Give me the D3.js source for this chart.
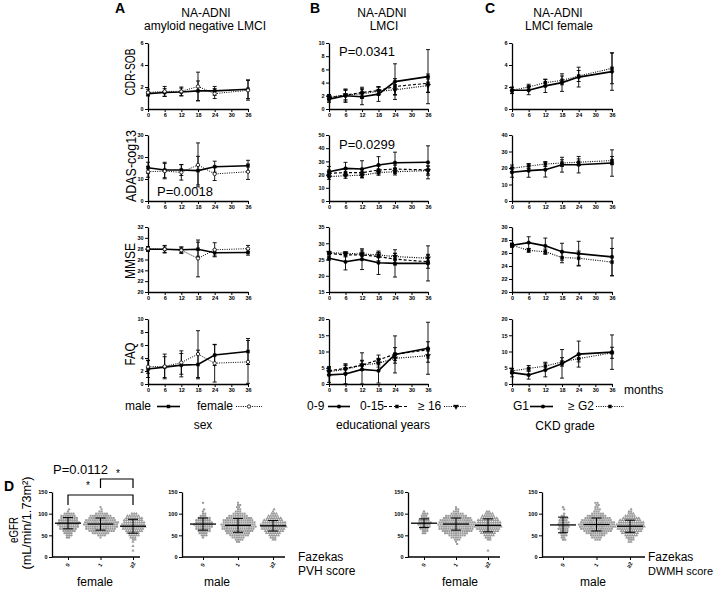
<!DOCTYPE html>
<html><head><meta charset="utf-8">
<script src="https://cdn.jsdelivr.net/npm/d3@7"></script>
<style>
body{margin:0;background:#fff}
svg{display:block}
text{font-family:Arial,"Liberation Sans",Helvetica,sans-serif;fill:#000}
</style>
</head><body>
<svg id="c" width="719" height="589"></svg>
<script>
// ---------------- DATA ----------------
const months = [0, 6, 12, 18, 24, 36];
const monthTicks = [0, 6, 12, 18, 24, 30, 36];

// Panel A : sex (male, female)
const sexGroups = ["male", "female"];
const A_cdr    = [[1.4,1.5,1.55,1.65,1.65,1.8],[1.5,1.6,1.6,2.05,1.4,1.7]];
const A_cdrSD  = [[0.2,0.35,0.35,0.9,0.4,0.85],[0.3,0.45,0.4,1.3,0.45,0.9]];
const A_adas   = [[15.1,14.1,14.1,13.8,15.6,16.0],[13.3,13.6,13.0,16.4,12.3,13.3]];
const A_adasSD = [[2.5,3.5,2.5,6.5,2.5,2.5],[2.5,3.5,3.5,10,3,3.5]];
const A_mmse   = [[27.9,27.9,27.8,27.9,27.25,27.3],[28.0,27.9,27.7,26.2,27.8,28.0]];
const A_mmseSD = [[0.4,0.6,0.5,1.3,0.6,0.5],[0.4,0.7,0.6,3.4,1.3,0.6]];
const A_faq    = [[2.3,2.6,2.9,3.0,4.45,5.0],[2.65,2.7,3.3,4.6,3.2,3.4]];
const A_faqSD  = [[1.3,1.6,1.8,2.2,1.6,2.0],[1.0,1.9,1.8,3.6,2.9,3.3]];

// Panel B : educational years
const eduGroups = ["0-9", "0-15", "\u2265 16"];
const B_cdr    = [[1.5,2.0,1.85,2.25,4.15,4.9],[1.7,2.1,2.5,2.8,3.4,3.9],[1.8,2.1,2.3,2.7,2.9,3.55]];
const B_cdrSD  = [[0.5,1.0,1.2,1.1,2.7,4.1],[0.5,0.9,0.8,0.6,1.2,1.4],[0.4,0.7,0.7,0.6,0.8,1.0]];
const B_adas   = [[22.2,24.7,24.2,27.3,29.0,29.3],[21.0,21.5,21.5,23.5,24.2,23.5],[18.4,19.2,19.5,21.5,22.2,23.0]];
const B_adasSD = [[4,4.6,6.3,6.3,8,12.5],[2.5,2.5,2.5,3,3,3],[2,2,2,2,2.5,3.5]];
const B_mmse   = [[25.4,24.3,25.1,24.0,23.8,23.8],[26.9,26.4,26.4,25.9,25.1,24.3],[27.1,26.9,26.7,26.4,25.9,25.4]];
const B_mmseSD = [[0.6,2.5,3.2,3.6,4.2,5.4],[0.5,0.6,1.5,1.3,1.8,2.0],[0.4,0.5,0.6,0.8,1.0,1.2]];
const B_faq    = [[2.8,3.1,4.5,4.1,9.1,11.0],[4.1,4.8,5.8,7.4,9.2,10.5],[3.8,4.5,5.8,6.4,7.9,8.7]];
const B_faqSD  = [[2.3,3.0,5.1,3.8,5.7,8.0],[1.3,1.4,1.5,1.5,2.0,2.5],[1.0,1.2,1.3,1.2,1.5,2.0]];

// Panel C : CKD grade
const ckdGroups = ["G1", "\u2265 G2"];
const C_cdr    = [[1.7,1.7,2.1,2.4,2.9,3.4],[1.7,2.0,2.4,2.6,3.0,3.7]];
const C_cdrSD  = [[0.3,0.4,0.6,0.8,0.9,1.7],[0.25,0.25,0.3,0.4,0.5,1.4]];
const C_adas   = [[17.4,18.4,19.0,22.0,22.0,23.0],[19.8,21.2,22.4,23.0,23.5,24.5]];
const C_adasSD = [[3,4,4.5,4.5,5,8],[2,1.5,1.5,2,2,2.5]];
const C_mmse   = [[27.2,27.6,27.1,26.2,25.9,25.4],[27.2,26.4,26.2,25.3,25.2,24.6]];
const C_mmseSD = [[0.3,0.9,1.2,1.3,1.9,2.9],[0.3,0.3,0.4,0.8,1.1,2.1]];
const C_faq    = [[3.5,2.8,4.3,6.2,9.2,9.8],[4.0,4.8,5.5,6.8,7.8,9.6]];
const C_faqSD  = [[1.3,1.3,2.1,4.4,4.0,5.3],[0.8,0.9,1.2,1.3,1.0,1.7]];

// Panel D : eGFR by Fazekas score (counts of subjects per eGFR level)
const fazekasCats = ["0", "1", "\u22652"];
const eGFRbins = [15,20,25,30,35,40,45,50,55,60,65,70,75,80,85,90,95,100,105,110,115,120,125];
const pvhF_0 = [0,0,0,0,0,0,2,3,4,6,8,9,10,10,9,8,7,5,1,1,0,0,0];
const pvhF_1 = [0,0,0,0,0,0,1,4,8,12,14,15,16,16,14,12,10,6,2,1,1,0,0];
const pvhF_2 = [1,0,1,0,1,2,3,5,6,8,10,11,11,10,9,8,6,3,0,0,0,0,0];
const pvhM_0 = [0,0,0,0,0,0,1,3,4,6,7,8,9,8,7,6,3,2,1,1,0,0,1];
const pvhM_1 = [0,0,0,0,2,4,6,9,11,13,15,16,16,15,14,12,9,6,3,2,2,2,1];
const pvhM_2 = [0,0,0,0,0,2,3,5,7,9,11,12,12,11,9,7,5,3,1,1,0,0,0];
const dwmhF_0 = [0,0,0,0,0,0,0,0,2,3,4,5,6,6,5,4,3,3,1,0,0,0,0];
const dwmhF_1 = [0,0,0,1,1,3,5,8,11,14,16,17,17,17,15,13,10,6,3,2,1,0,0];
const dwmhF_2 = [1,0,0,0,0,2,3,5,7,9,11,12,12,11,10,8,6,4,2,0,0,0,0];
const dwmhM_0 = [0,0,0,0,0,2,2,3,3,4,5,5,5,5,4,4,2,1,0,1,1,0,0];
const dwmhM_1 = [0,0,0,0,0,3,5,7,10,13,15,17,17,16,14,12,9,6,3,3,2,2,2];
const dwmhM_2 = [0,0,0,0,2,3,4,6,8,10,12,13,13,12,10,8,5,3,2,1,0,0,0];
const pvhF_mean = [78,76,71],  pvhF_sd = [13,14,16];
const pvhM_mean = [76,73,72],  pvhM_sd = [14,16,12];
const dwmhF_mean = [78,76,73], dwmhF_sd = [10,14,15];
const dwmhM_mean = [74,75,71], dwmhM_sd = [18,15,14];

// ---------------- DRAWING ----------------
const svg = d3.select("#c");
const FONT = 'Arial,"Liberation Sans",Helvetica,sans-serif';

function styleAxis(sel){
  sel.attr("font-family", FONT).attr("font-size", 5.5).attr("font-weight", "bold");
  sel.select(".domain").attr("stroke", "#000").attr("stroke-width", 1.3);
  sel.selectAll(".tick line").attr("stroke", "#000").attr("stroke-width", 1);
  sel.selectAll(".tick text").attr("fill", "#000");
}

function markerPath(type){
  if (type === "square") return d3.symbol(d3.symbolSquare, 10)();
  if (type === "circle") return d3.symbol(d3.symbolCircle, 11)();
  if (type === "ocircle") return d3.symbol(d3.symbolCircle, 9)();
  if (type === "triangle") return d3.symbol(d3.symbolTriangle, 12)();
  return null;
}
function addMarker(g, type, fill, cx, cy){
  g.append("path").attr("d", markerPath(type))
    .attr("transform", `translate(${cx},${cy})` + (type === "triangle" ? " rotate(180)" : ""))
    .attr("fill", fill).attr("stroke", "#000").attr("stroke-width", fill === "#fff" ? 0.8 : 0.3);
}

const xPanels = { A: [148, 248], B: [329, 428], C: [512, 612] };
const rows = [[43, 109], [135, 201], [227, 292], [319, 384]];

function linePanel(px, row, domain, ticks, means, sds, styles){
  const [x0, x1] = px, [yTop, yBot] = row;
  const x = d3.scaleLinear().domain([0, 36]).range([x0, x1]);
  const y = d3.scaleLinear().domain(domain).range([yBot, yTop]);
  const g = svg.append("g");
  g.append("g").attr("transform", `translate(0,${yBot})`)
    .call(d3.axisBottom(x).tickValues(monthTicks).tickFormat(d3.format("d")).tickSize(3).tickSizeOuter(0).tickPadding(1.5)).call(styleAxis);
  g.append("g").attr("transform", `translate(${x0},0)`)
    .call(d3.axisLeft(y).tickValues(ticks).tickFormat(d3.format("d")).tickSize(3).tickSizeOuter(0).tickPadding(1.5)).call(styleAxis);
  const clamp = v => Math.max(domain[0], Math.min(domain[1], v));
  means.forEach((m, si) => {
    m.forEach((v, i) => {
      const cx = x(months[i]);
      const lo = y(clamp(v - sds[si][i])), hi = y(clamp(v + sds[si][i]));
      g.append("line").attr("x1", cx).attr("x2", cx).attr("y1", lo).attr("y2", hi).attr("stroke", "#000").attr("stroke-width", 0.9);
      [lo, hi].forEach(yy => g.append("line").attr("x1", cx - 2).attr("x2", cx + 2).attr("y1", yy).attr("y2", yy).attr("stroke", "#000").attr("stroke-width", 0.9));
    });
  });
  means.forEach((m, si) => {
    const st = styles[si];
    g.append("path").datum(m)
      .attr("d", d3.line().x((d, i) => x(months[i])).y(d => y(d)))
      .attr("fill", "none").attr("stroke", "#000").attr("stroke-width", st.w)
      .attr("stroke-dasharray", st.dash || null);
  });
  means.forEach((m, si) => {
    const st = styles[si];
    m.forEach((v, i) => addMarker(g, st.marker, st.fill, x(months[i]), y(v)));
  });
}

const stA = [{w:1.6, dash:null, marker:"square", fill:"#000"}, {w:1, dash:"1,1.3", marker:"ocircle", fill:"#fff"}];
const stB = [{w:1.6, dash:null, marker:"circle", fill:"#000"}, {w:1.2, dash:"3,2", marker:"square", fill:"#000"}, {w:1.2, dash:"1,1.3", marker:"triangle", fill:"#000"}];
const stC = [{w:1.6, dash:null, marker:"circle", fill:"#000"}, {w:1.1, dash:"1,1.3", marker:"square", fill:"#000"}];

linePanel(xPanels.A, rows[0], [0,6],  [0,2,4,6], A_cdr, A_cdrSD, stA);
linePanel(xPanels.A, rows[1], [0,30], [0,10,20,30], A_adas, A_adasSD, stA);
linePanel(xPanels.A, rows[2], [20,32], [20,22,24,26,28,30,32], A_mmse, A_mmseSD, stA);
linePanel(xPanels.A, rows[3], [0,10], [0,2,4,6,8,10], A_faq, A_faqSD, stA);

linePanel(xPanels.B, rows[0], [0,10], [0,2,4,6,8,10], B_cdr, B_cdrSD, stB);
linePanel(xPanels.B, rows[1], [0,50], [0,10,20,30,40,50], B_adas, B_adasSD, stB);
linePanel(xPanels.B, rows[2], [15,35], [15,20,25,30,35], B_mmse, B_mmseSD, stB);
linePanel(xPanels.B, rows[3], [0,20], [0,5,10,15,20], B_faq, B_faqSD, stB);

linePanel(xPanels.C, rows[0], [0,6],  [0,2,4,6], C_cdr, C_cdrSD, stC);
linePanel(xPanels.C, rows[1], [0,40], [0,10,20,30,40], C_adas, C_adasSD, stC);
linePanel(xPanels.C, rows[2], [20,30], [20,22,24,26,28,30], C_mmse, C_mmseSD, stC);
linePanel(xPanels.C, rows[3], [0,20], [0,5,10,15,20], C_faq, C_faqSD, stC);

function txt(s, x, y, size, opts = {}){
  const t = svg.append("text").attr("x", x).attr("y", y).attr("font-size", size).text(s);
  if (opts.anchor) t.attr("text-anchor", opts.anchor);
  if (opts.bold) t.attr("font-weight", "bold");
  return t;
}
function vtxt(s, bx, cy, size, len){
  const t = svg.append("text").attr("transform", `translate(${bx},${cy}) rotate(-90)`)
    .attr("text-anchor", "middle").attr("font-size", size).text(s);
  if (len) t.attr("textLength", len).attr("lengthAdjust", "spacingAndGlyphs");
  return t;
}

txt("A", 115, 13, 14, {bold:true});
txt("NA-ADNI", 206, 17, 12, {anchor:"middle"});
txt("amyloid negative LMCI", 205, 30, 12, {anchor:"middle"});
txt("B", 310, 13, 14, {bold:true});
txt("NA-ADNI", 382, 17, 12, {anchor:"middle"});
txt("LMCI", 384, 30, 12, {anchor:"middle"});
txt("C", 485, 13, 14, {bold:true});
txt("NA-ADNI", 558, 17, 12, {anchor:"middle"});
txt("LMCI female", 559, 30, 12, {anchor:"middle"});

vtxt("CDR-SOB", 135, 72, 14, 47);
vtxt("ADAS-cog13", 136, 166, 14, 72);
vtxt("MMSE", 135, 261, 14, 36);
vtxt("FAQ", 135, 354, 14, 23);

txt("P=0.0018", 157, 196, 13);
txt("P=0.0341", 339, 56, 13);
txt("P=0.0299", 339, 149, 13);
txt("months", 624, 394, 12);

function legendItem(label, tx, lx0, lx1, mx, st){
  const ly = 406.5;
  txt(label, tx, 410, 12);
  svg.append("line").attr("x1", lx0).attr("x2", lx1).attr("y1", ly).attr("y2", ly)
    .attr("stroke", "#000").attr("stroke-width", st.w).attr("stroke-dasharray", st.dash || null);
  addMarker(svg, st.marker, st.fill, mx, ly);
}
legendItem(sexGroups[0], 125, 157, 180, 168.5, stA[0]);
legendItem(sexGroups[1], 197, 236, 262, 249, stA[1]);
legendItem(eduGroups[0], 307, 328, 350, 339, stB[0]);
legendItem(eduGroups[1], 360, 384, 408, 397, stB[1]);
legendItem(eduGroups[2], 418, 444, 467, 456, stB[2]);
legendItem(ckdGroups[0], 513, 530, 553, 543, stC[0]);
legendItem(ckdGroups[1], 568, 596, 624, 610, stC[1]);
txt("sex", 203, 429, 12, {anchor:"middle"});
txt("educational years", 383, 429, 12, {anchor:"middle"});
txt("CKD grade", 565, 430, 12, {anchor:"middle"});

// ---------------- PANEL D ----------------
const yD = d3.scaleLinear().domain([0, 150]).range([557, 492]);
const shapes = ["circle", "square", "triangle"];
function scatterPanel(axisX, catRange, counts, means, sds){
  const [ax0, ax1] = axisX;
  const x = d3.scalePoint().domain(fazekasCats).range(catRange);
  const g = svg.append("g");
  counts.forEach((arr, ci) => {
    const cx = x(fazekasCats[ci]);
    arr.forEach((c, bi) => {
      const cy = yD(eGFRbins[bi]);
      const off = (bi % 2) ? 1.1 : 0;
      for (let k = 0; k < c; k++){
        const px = cx + (k - (c - 1) / 2) * 2.2 + off;
        let p;
        if (shapes[ci] === "circle") p = d3.symbol(d3.symbolCircle, 4.5)();
        else if (shapes[ci] === "square") p = d3.symbol(d3.symbolSquare, 4)();
        else p = d3.symbol(d3.symbolTriangle, 4.5)();
        g.append("path").attr("d", p).attr("transform", `translate(${px},${cy})`).attr("fill", "#9a9a9a");
      }
    });
  });
  means.forEach((m, ci) => {
    const cx = x(fazekasCats[ci]);
    g.append("line").attr("x1", cx - 13).attr("x2", cx + 13).attr("y1", yD(m)).attr("y2", yD(m)).attr("stroke", "#000").attr("stroke-width", 1.3);
    const lo = yD(m - sds[ci]), hi = yD(m + sds[ci]);
    g.append("line").attr("x1", cx).attr("x2", cx).attr("y1", lo).attr("y2", hi).attr("stroke", "#000").attr("stroke-width", 1);
    [lo, hi].forEach(yy => g.append("line").attr("x1", cx - 5).attr("x2", cx + 5).attr("y1", yy).attr("y2", yy).attr("stroke", "#000").attr("stroke-width", 1));
  });
  g.append("line").attr("x1", ax0).attr("x2", ax1).attr("y1", 557).attr("y2", 557).attr("stroke", "#000").attr("stroke-width", 1.3);
  const xa = g.append("g").attr("transform", "translate(0,557)")
    .call(d3.axisBottom(x).tickSize(3).tickSizeOuter(0)).call(styleAxis);
  xa.select(".domain").remove();
  xa.selectAll(".tick text").attr("y", 0).attr("dy", "0.35em").attr("text-anchor", "middle")
    .attr("transform", "translate(-1,8) rotate(-60)");
  g.append("g").attr("transform", `translate(${ax0},0)`)
    .call(d3.axisLeft(yD).tickValues([0, 50, 100, 150]).tickFormat(d3.format("d")).tickSize(3).tickSizeOuter(0).tickPadding(1.5)).call(styleAxis);
  return x;
}
const xD1 = scatterPanel([52, 140], [68, 133], [pvhF_0, pvhF_1, pvhF_2], pvhF_mean, pvhF_sd);
scatterPanel([182, 285], [203, 273], [pvhM_0, pvhM_1, pvhM_2], pvhM_mean, pvhM_sd);
scatterPanel([408, 500], [424, 488], [dwmhF_0, dwmhF_1, dwmhF_2], dwmhF_mean, dwmhF_sd);
scatterPanel([542, 645], [563, 630], [dwmhM_0, dwmhM_1, dwmhM_2], dwmhM_mean, dwmhM_sd);

function bracket(c0, c1, y, legY){
  const a = xD1(fazekasCats[c0]), b = xD1(fazekasCats[c1]);
  svg.append("path").attr("d", `M${a},${legY}V${y}H${b}V${legY}`).attr("fill", "none").attr("stroke", "#000").attr("stroke-width", 1.2);
}
bracket(1, 2, 479, 488);
bracket(0, 2, 495, 505);
txt("*", 118, 477, 10, {anchor:"middle"});
txt("*", 88, 489, 10, {anchor:"middle"});
txt("P=0.0112", 53, 474, 13);
txt("D", 4, 491, 14, {bold:true});

vtxt("eGFR", 18, 530, 13, 26);
vtxt("(mL/min/1.73m\u00B2)", 31, 523, 13, 93);

txt("female", 95, 586, 12, {anchor:"middle"});
txt("male", 217, 586, 12, {anchor:"middle"});
txt("female", 460, 586, 12, {anchor:"middle"});
txt("male", 593, 586, 12, {anchor:"middle"});
txt("Fazekas", 298, 561, 12);
txt("PVH score", 298, 575, 12);
txt("Fazekas", 648, 561, 12);
svg.append("text").attr("x", 648).attr("y", 575).attr("font-size", 11.5)
  .attr("textLength", 65).attr("lengthAdjust", "spacingAndGlyphs").text("DWMH score");
</script>
</body></html>
